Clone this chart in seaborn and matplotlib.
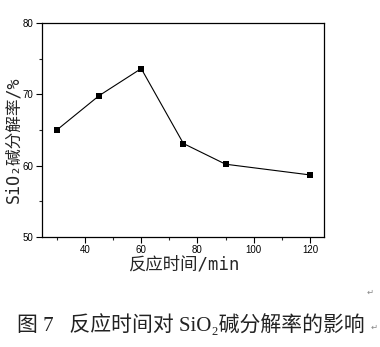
import matplotlib
matplotlib.use("Agg")
import matplotlib.pyplot as plt
import seaborn as sns
import pandas as pd

# Reaction time (min) vs SiO2 alkaline decomposition rate (%)
reaction_time = [30, 45, 60, 75, 90, 120]
decomp_rate = [65.0, 69.8, 73.6, 63.1, 60.2, 58.7]

x_ticks = [40, 60, 80, 100, 120]
y_ticks = [50, 60, 70, 80]

x_label = "反应时间/min"
y_label = "SiO₂碱分解率/%"
caption = "图 7   反应时间对 SiO₂碱分解率的影响"

sns.set_style("ticks")
plt.rcParams["font.family"] = ["Liberation Sans", "Noto Sans CJK SC", "DejaVu Sans"]

df = pd.DataFrame({"time": reaction_time, "rate": decomp_rate})

fig = plt.figure(figsize=(3.80, 3.47), dpi=100)
ax = fig.add_axes([0.1105, 0.317, 0.742, 0.617])

sns.lineplot(data=df, x="time", y="rate", ax=ax, color="black", linewidth=0.8,
             marker="s", markersize=4.5, markeredgewidth=0, markerfacecolor="black")

ax.set_xlim(24.7, 125)
ax.set_ylim(50, 80)
ax.set_xticks(x_ticks)
ax.set_yticks(y_ticks)
ax.set_xticks([30, 50, 70, 90, 110], minor=True)
ax.set_yticks([55, 65, 75], minor=True)
ax.tick_params(which="major", direction="out", length=4, width=0.8, labelsize=7,
               colors="black", pad=2)
ax.tick_params(which="minor", direction="out", length=2.5, width=0.8)
for s in ax.spines.values():
    s.set_linewidth(0.9)
    s.set_color("black")
    s.set_visible(True)

mono_cjk = ["DejaVu Sans Mono", "Noto Sans CJK SC"]
ax.set_xlabel(x_label, fontsize=12.5, family=mono_cjk, va="center")
ax.xaxis.set_label_coords(0.503, -0.128)
ax.set_ylabel(y_label, fontsize=12, family=mono_cjk, va="center")
ax.yaxis.set_label_coords(-0.103, 0.453)

fig.text(0.045, 0.063, caption, fontsize=15, va="center", ha="left",
         color="#222222", fontweight="light",
         family=["Liberation Serif", "Noto Sans CJK SC", "DejaVu Sans"])
fig.text(0.975, 0.058, "↵", fontsize=6, color="#888888", va="center", ha="left",
         family=["DejaVu Sans"])
fig.text(0.965, 0.158, "↵", fontsize=6, color="#888888", va="center", ha="left",
         family=["DejaVu Sans"])

fig.savefig("out.png", dpi=100, facecolor="white")
